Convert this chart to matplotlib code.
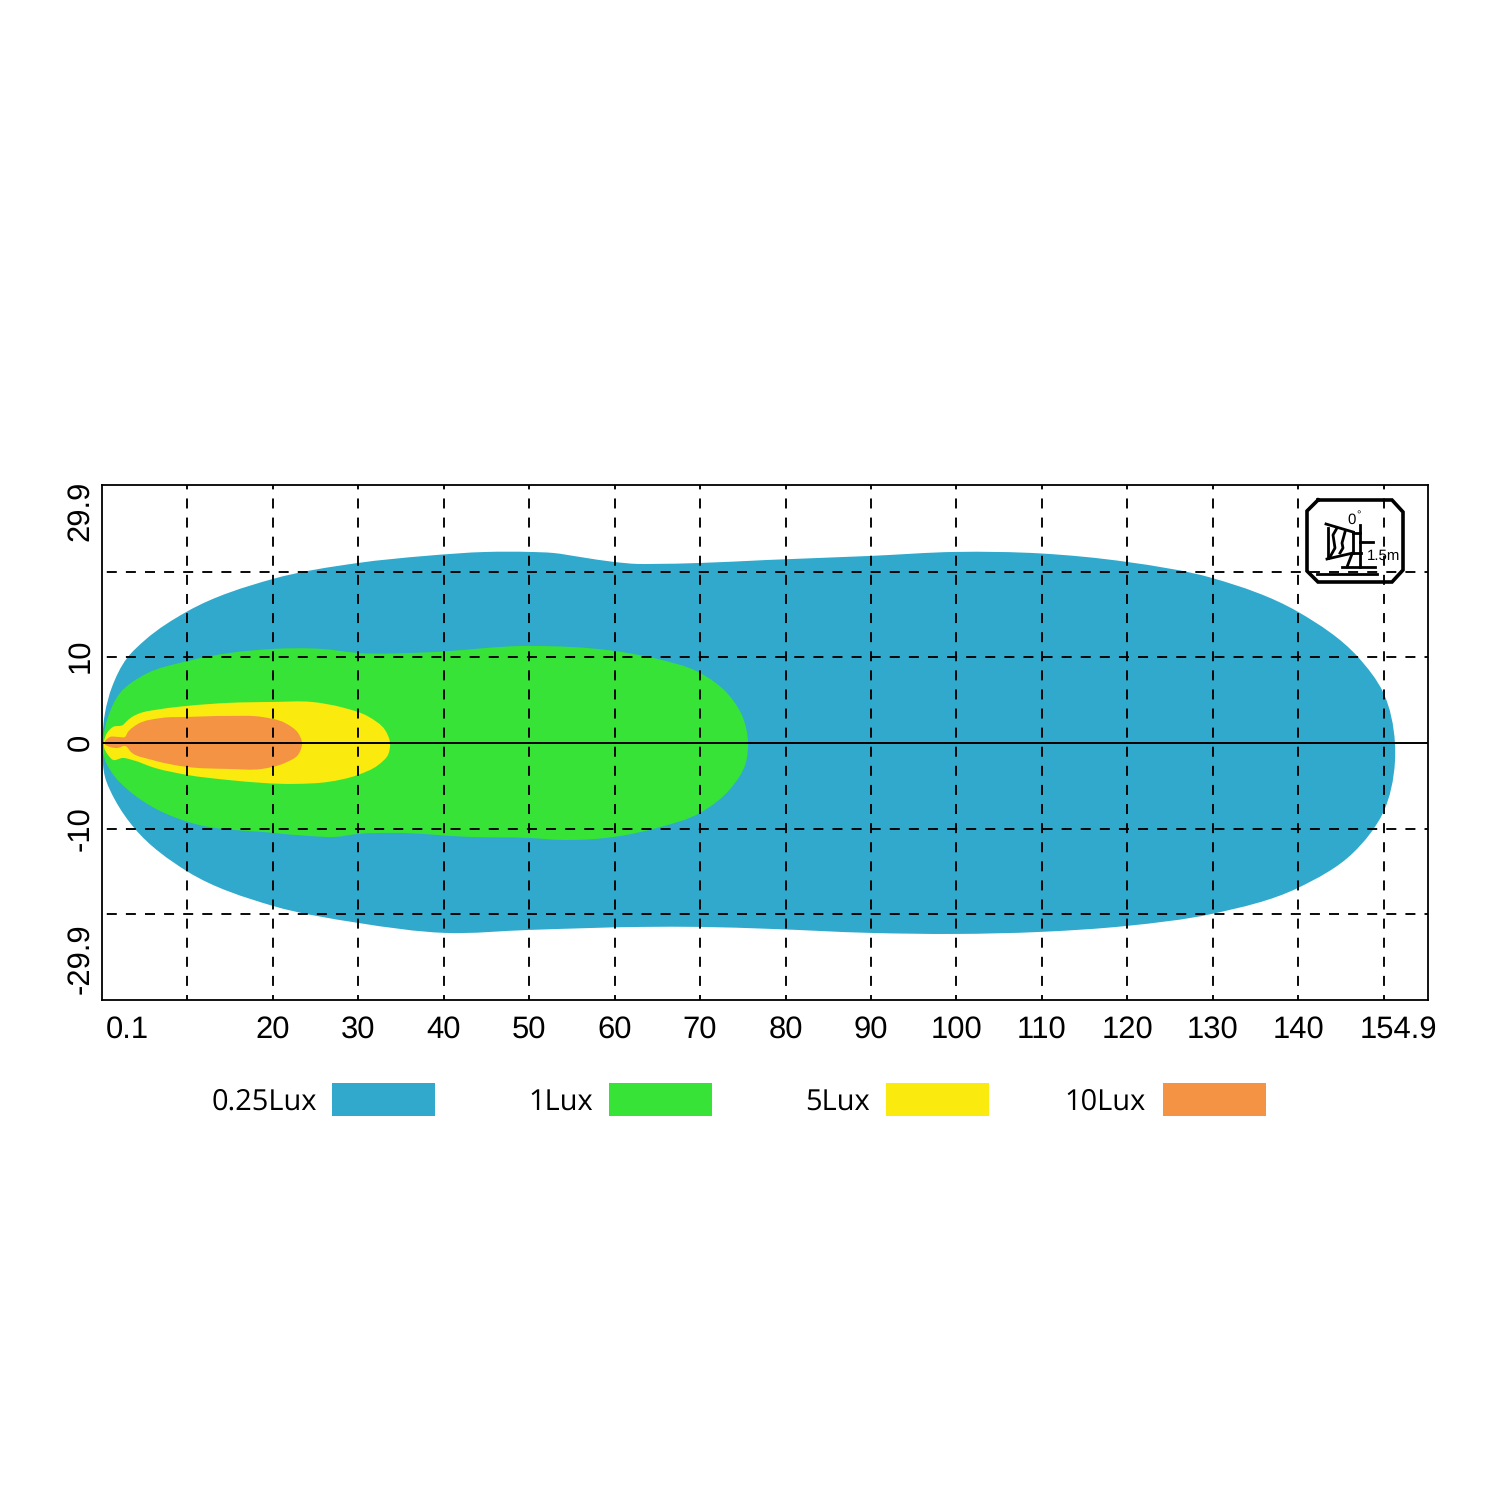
import numpy as np
import matplotlib
matplotlib.use("Agg")
import matplotlib.pyplot as plt
from matplotlib.path import Path
from matplotlib.patches import PathPatch, Rectangle

plt.rcParams['font.family'] = ['Liberation Sans', 'DejaVu Sans']
plt.rcParams['lines.scale_dashes'] = False
plt.rcParams['text.hinting'] = 'no_hinting'
plt.rcParams['text.hinting_factor'] = 1

# isolux outlines, distance (m) and lateral offset (m), going clockwise from the lamp
lux025_x = [0.04, 0.35, 1.17, 2.93, 5.03, 10.07, 20.01, 29.96, 37.8, 45.06, 49.98, 52.79, 55.95,
            59.93, 62.62, 64.49, 69.99, 77.83, 89.89, 99.95, 109.9, 119.97, 129.92, 139.98,
            147.0, 149.93, 151.33, 151.33, 149.93, 146.42, 139.98,
            129.92, 119.97, 109.9, 99.95, 89.89, 78.18, 69.99, 63.32, 50.09, 40.14,
            29.96, 20.01, 10.07, 3.86, 1.52, 0.35, 0.04]
lux025_y = [0.35, 3.5, 6.53, 9.9, 12.0, 15.4, 19.14, 21.0, 21.82, 22.29, 22.29, 22.17, 21.7,
            21.12, 20.89, 20.89, 21.0, 21.35, 21.82, 22.29, 22.11, 21.12, 19.25, 15.3,
            10.03, 5.95, 0, -2.22, -8.17, -12.84, -16.92,
            -19.95, -21.35, -22.05, -22.29, -22.17, -21.7, -21.47, -21.47, -21.82, -22.17,
            -21.0, -19.02, -15.05, -10.03, -6.65, -3.97, -1.17]

lux1_x = [0.12, 0.7, 2.11, 5.03, 10.07, 20.01, 25.75, 29.96, 37.8, 49.98, 59.93,
          64.49, 69.99, 73.15, 75.0, 75.61, 75.3, 73.5, 69.99, 64.96, 59.93, 53.96, 49.98, 43.07,
          34.29, 29.96, 27.27, 24.11, 20.01, 10.07, 6.55, 3.04, 1.52, 0.12]
lux1_y = [0.35, 3.03, 5.83, 8.0, 9.57, 10.97, 10.97, 10.5, 10.56, 11.32, 10.74,
          9.92, 8.17, 5.83, 3.0, 0, -2.5, -5.4, -8.17, -9.92, -10.97, -11.32, -11.09, -10.97,
          -10.5, -10.62, -10.97, -10.85, -10.5, -9.22, -7.82, -5.48, -3.97, -1.17]

lux5_x = [0.23, 0.59, 1.29, 2.46, 2.81, 3.51, 4.21, 7.02, 9.95, 14.75, 20.01, 24.58, 28.09, 31.13, 33.12, 33.71, 33.47,
          32.3, 29.96, 26.45, 22.59, 14.75, 9.95, 6.2, 3.51, 2.46, 1.29, 0.7, 0.23]
lux5_y = [0.12, 1.17, 1.87, 2.1, 2.45, 3.03, 3.38, 3.97, 4.32, 4.67, 4.78, 4.78, 4.15, 3.1, 1.52, 0, -1.4,
          -2.6, -3.73, -4.55, -4.78, -4.32, -3.73, -2.92, -1.98, -1.75, -1.98, -1.4, -0.47]

lux10_x = [0.35, 0.94, 1.87, 2.69, 3.04, 4.21, 7.02, 9.95, 14.75, 18.73, 21.42, 22.94, 23.41, 22.94, 21.42, 18.73,
           14.75, 9.95, 5.85, 3.51, 2.69, 1.87, 0.94, 0.35]
lux10_y = [0.12, 0.7, 0.7, 0.7, 1.28, 2.22, 2.92, 3.03, 3.15, 3.03, 2.33, 1.17, 0, -1.4, -2.33, -3.03,
           -3.03, -2.8, -1.98, -1.17, -0.35, -0.58, -0.47, -0.12]

level_names = ['0.25Lux', '1Lux', '5Lux', '10Lux']
level_colors = ['#30A9CC', '#37E337', '#FBEA0E', '#F39343']
outlines = [(lux025_x, lux025_y), (lux1_x, lux1_y), (lux5_x, lux5_y), (lux10_x, lux10_y)]

grid_x = [10, 20, 30, 40, 50, 60, 70, 80, 90, 100, 110, 120, 130, 140, 150]
grid_y = [20, 10, -10, -20]
xtick_pos = [3.0, 20, 30, 40, 50, 60, 70, 80, 90, 100, 110, 120, 130, 140, 151.7]
xtick_labels = ['0.1', '20', '30', '40', '50', '60', '70', '80', '90', '100', '110', '120', '130', '140', '154.9']
ytick_pos = [27.1, 10.2, 0.1, -10, -25.2]
ytick_labels = ['29.9', '10', '0', '-10', '-29.9']


def smooth_closed(xs, ys):
    # spline through the read points, tangents weighted by chord length so uneven spacing doesn't kink
    pts = np.column_stack([xs, ys])
    n = len(pts)
    tang = []
    for i in range(n):
        a, b, c = pts[i - 1], pts[i], pts[(i + 1) % n]
        d0 = np.hypot(*(b - a))
        d1 = np.hypot(*(c - b))
        tang.append(((b - a) / d0 * d1 + (c - b) / d1 * d0) / (d0 + d1))
    verts = [pts[0]]
    codes = [Path.MOVETO]
    for i in range(n):
        j = (i + 1) % n
        d = np.hypot(*(pts[j] - pts[i]))
        verts += [pts[i] + tang[i] * d / 3, pts[j] - tang[j] * d / 3, pts[j]]
        codes += [Path.CURVE4] * 3
    return Path(verts, codes)


fig = plt.figure(figsize=(15, 15), dpi=100, facecolor='white')
ax = fig.add_axes([102 / 1500, 500 / 1500, 1326 / 1500, 515 / 1500])
ax.set_xlim(0, 155.2)
ax.set_ylim(-30, 30.1)

for (xs, ys), color, z in zip(outlines, level_colors, [1, 2, 3, 4]):
    ax.add_patch(PathPatch(smooth_closed(xs, ys), facecolor=color, edgecolor='none', zorder=z))

dash_v = (3.6, (7.2, 6.55))
dash_h = (10.3, (7.2, 6.55))
for x in grid_x:
    ax.plot([x, x], [-30, 30.1], color='black', lw=1.35, linestyle=dash_v, dash_capstyle='butt', zorder=5)
for y in grid_y:
    ax.plot([0, 155.2], [y, y], color='black', lw=1.35, linestyle=dash_h, dash_capstyle='butt', zorder=5)
ax.axhline(0, color='black', lw=1.4, zorder=6)

ax.set_xticks(xtick_pos, xtick_labels, fontsize=22)
ax.set_yticks(ytick_pos, ytick_labels, fontsize=22, rotation=90, va='center')
ax.tick_params(axis='x', length=0, pad=11)
ax.tick_params(axis='y', length=0, pad=5)
for s in ax.spines.values():
    s.set_linewidth(1.3)
    s.set_zorder(7)

# overlay in image pixels for the legend row and the mounting icon
over = fig.add_axes([0, 0, 1, 1], facecolor='none')
over.set_xlim(0, 1500)
over.set_ylim(1500, 0)
over.axis('off')

swatch_left = [332, 609, 886, 1163]
label_gap = [15, 16, 16, 17]
for name, color, left, gap in zip(level_names, level_colors, swatch_left, label_gap):
    over.add_patch(Rectangle((left, 1083), 103, 33, facecolor=color, edgecolor='none'))
    over.text(left - gap, 1109.5, name, ha='right', va='baseline', fontsize=21.1, family='Open Sans')

octagon_x = [1318, 1392, 1403, 1403, 1392, 1318, 1307, 1307, 1318]
octagon_y = [500, 500, 512, 570, 582, 582, 571, 511, 500]
over.plot(octagon_x, octagon_y, color='black', lw=2.6, solid_joinstyle='miter', zorder=8)
icon_strokes = [
    ([1326, 1353], [524, 532]),
    ([1328, 1328], [528, 558]),
    ([1327, 1353], [559, 553]),
    ([1353, 1353], [532, 553]),
    ([1360, 1360], [525, 567]),
    ([1353, 1360], [533, 533]),
    ([1360, 1373], [542, 542]),
    ([1353, 1361], [553, 553]),
    ([1352, 1347], [554, 567]),
    ([1342, 1375], [567, 567]),
    ([1317, 1377], [574, 574]),
    ([1337, 1333, 1335, 1330], [528, 535, 548, 557]),
    ([1345, 1342, 1343, 1340], [532, 543, 548, 553]),
]
for xs, ys in icon_strokes:
    over.plot(xs, ys, color='black', lw=2.0, zorder=8)
over.text(1352, 520, '0', ha='center', va='center', fontsize=10.5, zorder=9)
over.text(1359, 516, '°', ha='center', va='center', fontsize=8, zorder=9)
over.text(1383.5, 556, '1.5m', ha='center', va='center', fontsize=10.8, zorder=9)

fig.savefig('out.png', dpi=100, facecolor='white')
